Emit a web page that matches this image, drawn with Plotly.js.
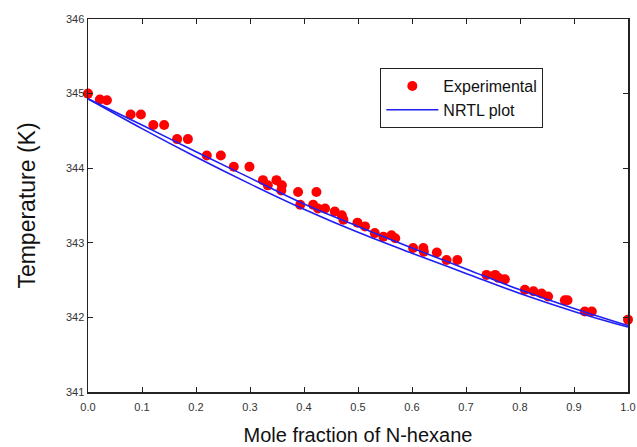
<!DOCTYPE html>
<html>
<head>
<meta charset="utf-8">
<script src="https://cdn.plot.ly/plotly-3.0.1.min.js"></script>
<style>html,body{margin:0;padding:0;background:#fff;}#chart{width:637px;height:447px;}</style>
</head>
<body>
<div id="chart"></div>
<script>
// Experimental data: mole fraction of N-hexane vs temperature (K)
const expX = [0.000,0.022,0.035,0.079,0.098,0.121,0.141,0.165,0.185,0.220,0.246,0.270,0.299,0.324,0.333,0.349,0.359,0.358,
  0.389,0.393,0.417,0.423,0.426,0.439,0.457,0.470,0.473,0.499,0.513,0.531,0.547,0.562,0.569,0.602,0.621,0.622,0.646,0.664,0.684,
  0.738,0.754,0.760,0.772,0.809,0.825,0.840,0.852,0.883,0.888,0.920,0.933,1.000];
const expT = [345.00,344.92,344.91,344.72,344.72,344.58,344.58,344.39,344.39,344.17,344.17,344.02,344.02,343.84,343.77,343.84,343.77,343.70,
  343.68,343.51,343.51,343.68,343.46,343.46,343.42,343.37,343.31,343.27,343.22,343.13,343.08,343.10,343.06,342.93,342.93,342.88,342.87,342.77,342.77,
  342.57,342.57,342.53,342.51,342.37,342.35,342.32,342.28,342.23,342.23,342.08,342.08,341.97];

// NRTL model curves (two nearly coincident lines)
const nrtlX = [0.0,0.1,0.2,0.3,0.4,0.5,0.6,0.7,0.8,0.9,1.0];
const nrtlUpper = [344.93,344.58,344.22,343.87,343.52,343.22,342.93,342.65,342.37,342.12,341.89];
const nrtlLower = [344.93,344.53,344.15,343.79,343.45,343.14,342.86,342.59,342.32,342.08,341.87];

const xTicks = [0,0.1,0.2,0.3,0.4,0.5,0.6,0.7,0.8,0.9,1.0];
const xTickText = ['0.0','0.1','0.2','0.3','0.4','0.5','0.6','0.7','0.8','0.9','1.0'];
const yTicks = [341,342,343,344,345,346];

const blue = 'rgb(30,30,245)';
const traces = [
  {x: expX, y: expT, type: 'scatter', mode: 'markers', name: 'Experimental',
   marker: {color: '#ff0000', size: 10, symbol: 'circle'}, cliponaxis: false},
  {x: nrtlX, y: nrtlUpper, type: 'scatter', mode: 'lines', name: 'NRTL plot',
   line: {color: blue, width: 1.6, shape: 'spline'}},
  {x: nrtlX, y: nrtlLower, type: 'scatter', mode: 'lines', name: 'NRTL plot', showlegend: false,
   line: {color: blue, width: 1.6, shape: 'spline'}}
];

const axisCommon = {
  showline: true, linecolor: '#222', linewidth: 1.5, mirror: 'ticks',
  ticks: 'inside', ticklen: 5, tickwidth: 1, tickcolor: '#222',
  showgrid: false, zeroline: false,
  tickfont: {family: 'Arial, Liberation Sans, sans-serif', size: 11, color: '#333'}
};

const layout = {
  width: 637, height: 447,
  margin: {l: 88, r: 9, t: 19, b: 55},
  paper_bgcolor: '#fff', plot_bgcolor: '#fff',
  font: {family: 'Arial, Liberation Sans, sans-serif'},
  xaxis: Object.assign({}, axisCommon, {
    range: [0, 1], tickvals: xTicks, ticktext: xTickText, ticklabelstandoff: 4,
    title: {text: 'Mole fraction of N-hexane', font: {size: 20, color: '#111'}, standoff: 16}
  }),
  yaxis: Object.assign({}, axisCommon, {
    range: [341, 346], tickvals: yTicks,
    title: {text: 'Temperature (K)', font: {size: 23, color: '#111'}, standoff: 24}
  }),
  legend: {
    x: 0.541, y: 0.869, xanchor: 'left', yanchor: 'top',
    bordercolor: '#222', borderwidth: 1.2, bgcolor: '#fff',
    font: {size: 16, color: '#111'}, itemwidth: 52, tracegroupgap: 0
  },
  showlegend: true
};

Plotly.newPlot('chart', traces, layout, {displayModeBar: false, staticPlot: true});
</script>
</body>
</html>
